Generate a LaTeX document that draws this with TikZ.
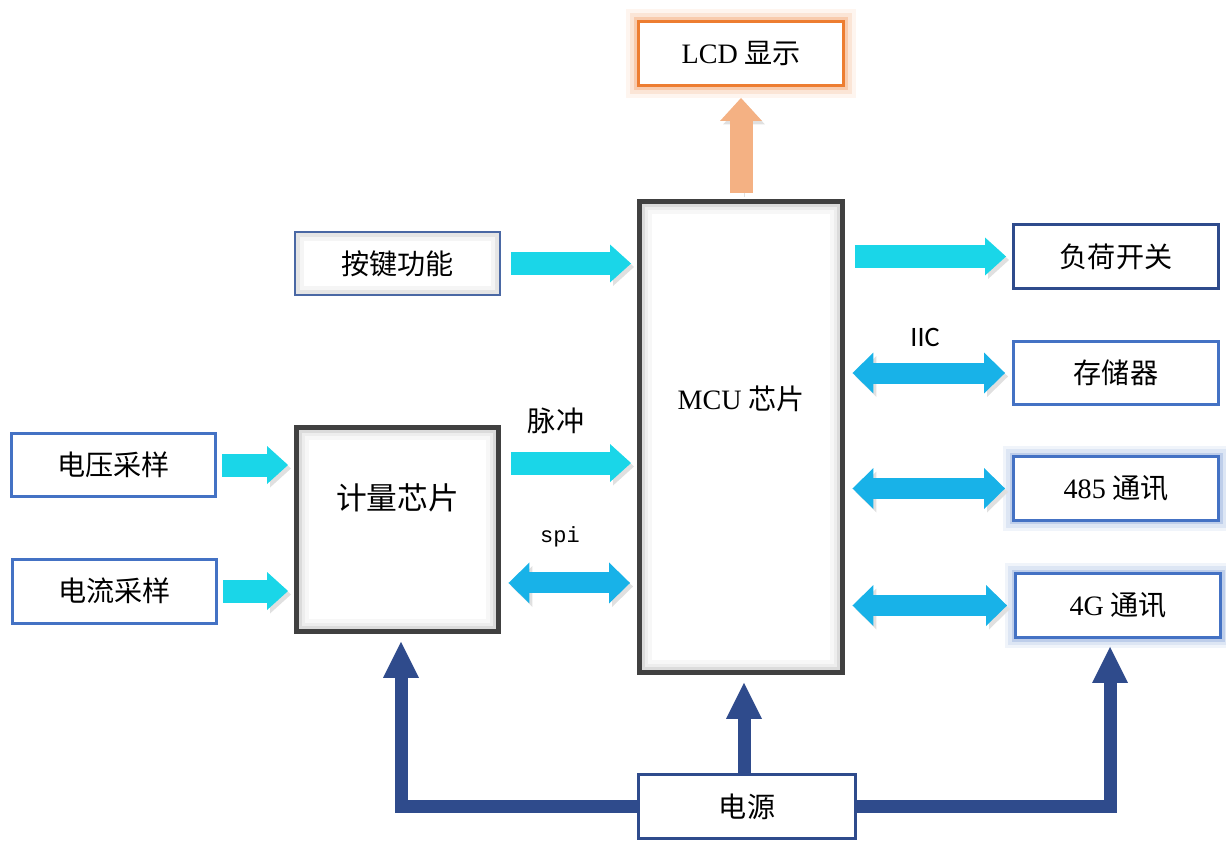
\documentclass[tikz,border=0pt]{standalone}
\usepackage{fontspec}
\setmainfont{Liberation Serif}
\setmonofont{Liberation Mono}
\newfontfamily\cjk{Noto Sans CJK SC}
\newfontfamily\iicfont{Carlito}
\usetikzlibrary{arrows.meta}
\definecolor{lcdorange}{RGB}{237,125,49}
\definecolor{lcdarrow}{RGB}{244,177,131}
\definecolor{aqua}{RGB}{26,214,232}
\definecolor{skyb}{RGB}{24,178,232}
\definecolor{boxblue}{RGB}{68,114,196}
\definecolor{kbdblue}{RGB}{74,104,164}
\definecolor{navy}{RGB}{47,75,140}
\definecolor{chipgray}{RGB}{64,64,64}

\tikzset{
  box/.style={draw=boxblue,line width=0.06cm,fill=white,inner sep=0pt,
    minimum width=4.1cm,minimum height=1.28cm,font=\cjk\fontsize{16}{19}\selectfont},
  halo/.style={preaction={draw=boxblue!8,line width=0.44cm,rounded corners=0.2cm},
    preaction={draw=boxblue!18,line width=0.3cm,rounded corners=0.12cm},
    preaction={draw=boxblue!35,line width=0.16cm,rounded corners=0.06cm}},
  glowbox/.style={box,draw=lcdorange,
    preaction={draw=lcdorange!8,line width=0.5cm,rounded corners=0.22cm},
    preaction={draw=lcdorange!20,line width=0.34cm,rounded corners=0.14cm},
    preaction={draw=lcdorange!40,line width=0.18cm,rounded corners=0.07cm}},
  keybox/.style={box,draw=kbdblue,line width=0.04cm,
    path picture={\draw[black!4,line width=0.36cm] (path picture bounding box.south west) rectangle (path picture bounding box.north east);
      \draw[black!10,line width=0.2cm] (path picture bounding box.south west) rectangle (path picture bounding box.north east);}},
  chip/.style={draw=chipgray,line width=0.1cm,fill=white,inner sep=0pt,
    font=\cjk\fontsize{16}{19}\selectfont,
    path picture={\draw[black!3,line width=0.5cm] (path picture bounding box.south west) rectangle (path picture bounding box.north east);
      \draw[black!7,line width=0.34cm] (path picture bounding box.south west) rectangle (path picture bounding box.north east);
      \draw[black!14,line width=0.2cm] (path picture bounding box.south west) rectangle (path picture bounding box.north east);}},
  shade/.style={preaction={draw=black!12,transform canvas={shift={(0.06cm,-0.07cm)}}}},
  oneway/.style={shade,draw=aqua,line width=0.46cm,shorten <=0.2cm,shorten >=0.12cm,
    -{Triangle[length=0.42cm,width=0.76cm,line width=0pt]}},
  twoway/.style={shade,draw=skyb,line width=0.42cm,shorten <=0.15cm,shorten >=0.14cm,
    {Triangle[length=0.42cm,width=0.82cm,line width=0pt]}-{Triangle[length=0.42cm,width=0.82cm,line width=0pt]}},
  uparrow/.style={shade,draw=lcdarrow,line width=0.46cm,shorten <=0.12cm,shorten >=0.22cm,
    -{Triangle[length=0.46cm,width=0.84cm,line width=0pt]}},
  power/.style={draw=navy,line width=0.26cm,line join=miter,shorten >=0.16cm,
    -{Triangle[length=0.72cm,width=0.72cm,line width=0pt]}},
  lbl/.style={inner sep=0pt,font=\cjk\fontsize{16}{19}\selectfont}
}

\begin{document}
\begin{tikzpicture}[x=0.02cm,y=-0.02cm,line cap=butt]
\useasboundingbox (0,0) rectangle (1226,841);
% blocks
\node[glowbox] (lcd) at (741,53.5) {{\rmfamily LCD} 显示};
\node[chip,minimum width=4.06cm,minimum height=9.42cm,text depth=1.58cm] (mcu) at (741,437) {{\rmfamily MCU} 芯片};
\node[keybox] (kbd) at (397.5,263.5) {按键功能};
\node[box,draw=navy] (load) at (1116,256.5) {负荷开关};
\node[box] (mem) at (1116,373) {存储器};
\node[box,halo] (rs) at (1116,488.5) {{\rmfamily 485} 通讯};
\node[box,halo] (gsm) at (1118,605.5) {{\rmfamily 4G} 通讯};
\node[box] (volt) at (113.5,465) {电压采样};
\node[box] (curr) at (114.5,591) {电流采样};
\node[chip,minimum width=4.04cm,minimum height=4.08cm,text depth=1.3cm,
  font=\cjk\fontsize{17.5}{21}\selectfont] (meter) at (397.5,529.5) {计量芯片};
\node[box,draw=navy,minimum width=4.34cm] (pwr) at (747,806.5) {电源};
% labels
\node[lbl] (pulse) at (556,421) {脉冲};
\node[inner sep=0pt,font=\ttfamily\fontsize{12.5}{15}\selectfont] (spi) at (560,537) {spi};
\node[inner sep=0pt,font=\iicfont\fontsize{16}{19}\selectfont] (iic) at (925,337) {IIC};
% signal arrows
\draw[uparrow] (mcu.north) -- (lcd.south);
\draw[oneway] (kbd.east) -- (kbd.east -| mcu.west);
\draw[oneway] (mcu.east |- load.west) -- (load.west);
\draw[twoway] (mcu.east |- mem.west) -- (mem.west);
\draw[twoway] (mcu.east |- rs.west) -- (rs.west);
\draw[twoway] (mcu.east |- gsm.west) -- (gsm.west);
\draw[oneway,shorten <=0.1cm] (volt.east) -- (volt.east -| meter.west);
\draw[oneway,shorten <=0.1cm] (curr.east) -- (curr.east -| meter.west);
\draw[oneway] ([yshift=1.33cm]meter.east) -- ([yshift=1.33cm]meter.east -| mcu.west);
\draw[twoway] ([yshift=-1.07cm]meter.east) -- ([yshift=-1.07cm]meter.east -| mcu.west);
% power lines
\draw[power] (pwr.west) -| ([xshift=0.07cm]meter.south);
\draw[power] ([xshift=0.06cm]mcu.south |- pwr.north) -- ([xshift=0.06cm]mcu.south);
\draw[power] (pwr.east) -| ([xshift=-0.16cm]gsm.south);
\end{tikzpicture}
\end{document}
